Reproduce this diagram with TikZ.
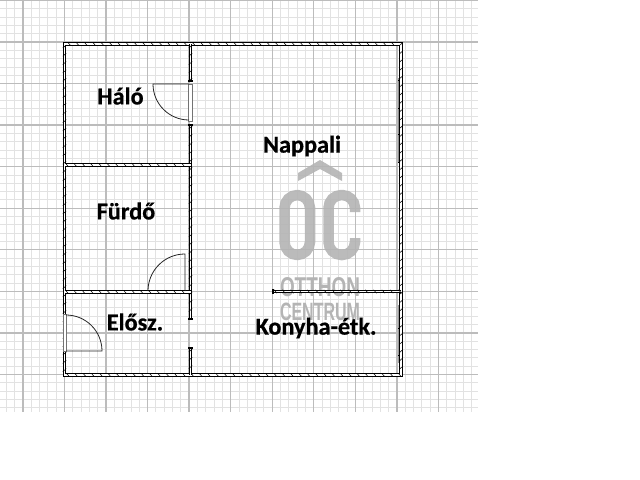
\documentclass[tikz,border=0pt]{standalone}
\usepackage{fontspec}
\usepackage{graphicx}
\setmainfont[BoldFeatures={FakeBold=0.6}]{Carlito}
\setsansfont{Liberation Sans}
\usetikzlibrary{decorations.markings}
\definecolor{minorgrid}{HTML}{E2E2E2}
\definecolor{majorgrid}{HTML}{BCBCBC}
\definecolor{logogray}{HTML}{B4B4B4}
\tikzset{
  wall/.style={line width=0.75pt, double=white, double distance=0.75pt, postaction={decorate},
    decoration={markings, mark=between positions 0.05cm and -0.02cm step 0.166cm with {\draw[line width=0.3pt,double=none] (-1.5,-1.7) -- (1.5,1.7);}}},
  wallend/.style={line width=0.75pt},
  doorleaf/.style={line width=0.45pt, black!85},
  frame/.style={line width=0.5pt, draw=black!55, fill=white},
  roomlabel/.style={font=\bfseries\fontsize{13.8}{16}\selectfont, text=black, inner sep=0pt},
  logotext/.style={text=logogray, inner sep=0pt, font=\sffamily\bfseries},
  logoline/.style={draw=logogray, opacity=0.9, line width=0.21cm, rounded corners=0.26cm}
}
\begin{document}
\begin{tikzpicture}[x=0.02cm,y=-0.02cm]
\useasboundingbox (0,0) rectangle (640,480);
\fill[white] (0,0) rectangle (640,480);
% grid paper
\begin{scope}[shift={(23,0.5)},x=0.831cm,y=0.831cm]
\draw[minorgrid, line width=0.5pt, step=0.2] (-0.553,-9.9) grid (10.95,0);
\draw[majorgrid, line width=0.8pt, step=1] (-0.553,-9.9) grid (10.95,0);
\end{scope}
% logo
\fill[logogray, opacity=0.9] (320,160) -- (342,173) -- (342,181) -- (320,169) -- (298,181) -- (298,173) -- cycle;
\draw[logoline] (284.5,225) -- (284.5,195) -- (310,195) -- (310,255) -- (284.5,255) -- cycle;
\draw[logoline] (355,212) -- (355,195) -- (328.5,195) -- (328.5,255) -- (355,255) -- (355,238);
\node[logotext] (otthon) at (320,287) {\resizebox{1.6cm}{0.38cm}{OTTHON}};
\node[logotext] (centrum) at (320,311.5) {\resizebox{1.6cm}{0.35cm}{CENTRUM}};
% window lines
\draw[frame, draw=black!45] (398,78) -- (398,163);
\draw[frame, draw=black!40] (398,305) -- (398,363);
\draw[line width=0.4pt] (398,80) -- (403,80) (398,108) -- (403,108) (398,134) -- (403,134) (398,162) -- (403,162);
\draw[line width=0.4pt] (398,328) -- (403,328) (398,355) -- (403,355);
% walls
\draw[wall] (64.5,44) rectangle (401,375);
\draw[wall] (190.5,44) -- (190.5,81);
\draw[wall] (190.5,125) -- (190.5,319);
\draw[wall] (190.5,348) -- (190.5,375);
\draw[wall] (64.5,165) -- (190.5,165);
\draw[wall] (64.5,292) -- (190.5,292);
\draw[wall] (273,291.5) -- (401,291.5);
\draw[wallend] (188.4,81) -- (192.6,81) (188.4,125) -- (192.6,125);
\draw[wallend] (188.4,319) -- (192.6,319) (188.4,348) -- (192.6,348);
\draw[wallend] (273,289.4) -- (273,293.6);
% doors
\fill[white] (62.5,314) rectangle (66.5,351);
\draw[frame] (188.8,84) rectangle (192,121);
\draw[frame] (63,314) rectangle (66,351);
\draw[doorleaf] (189,84) -- (153,84) arc (180:90:36);
\draw[doorleaf] (185,291) -- (185,254) arc (-90:-180:37);
\draw[doorleaf] (66,351) -- (102,351) arc (0:-90:36);
\draw[line width=0.9pt] (148,290.3) -- (185,290.3);
% labels
\node[roomlabel] (halo) at (120.5,96) {Háló};
\node[roomlabel] (furdo) at (126,211) {Fürdő};
\node[roomlabel] (elosz) at (135,322) {Elősz.};
\node[roomlabel] (nappali) at (302,146) {Nappali};
\node[roomlabel] (konyha) at (316,328) {Konyha-étk.};
\end{tikzpicture}
\end{document}
